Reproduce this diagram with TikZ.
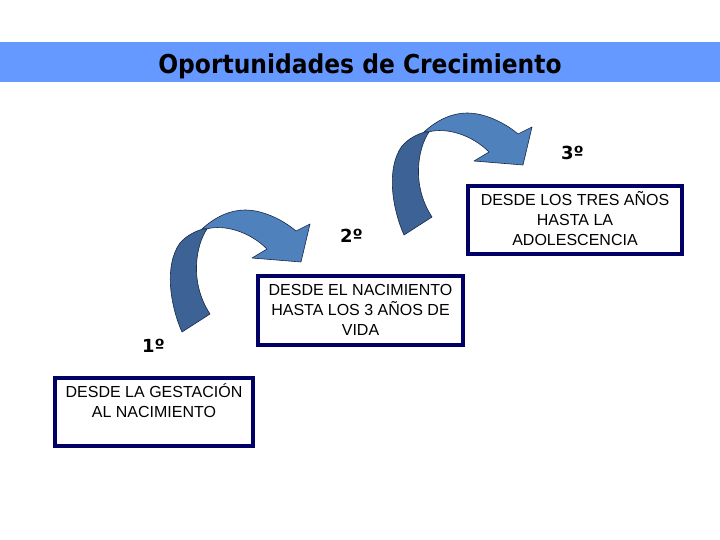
\documentclass[tikz,border=0pt]{standalone}
\usepackage{fontspec}
\setmainfont{Liberation Sans}
\newfontfamily\titlefont{DejaVu Sans Condensed}
\newfontfamily\labfont{DejaVu Sans}
\definecolor{barblue}{RGB}{102,153,255}
\definecolor{navyb}{RGB}{0,0,102}
\definecolor{arrlight}{RGB}{79,129,189}
\definecolor{arrdark}{RGB}{60,98,150}
\definecolor{arredge}{RGB}{25,40,70}
\tikzset{
  curvearrow/.pic={
    \path[lightpart] (20,-103) .. controls (33,-115) and (48,-122) .. (63,-122)
      .. controls (80,-122) and (100,-113) .. (114,-101) -- (128,-108) -- (119,-70)
      -- (70,-74) -- (85,-83) .. controls (68,-100) and (43,-108) .. (24,-103) -- cycle;
    \path[darkpart] (0,0) .. controls (-12,-27) and (-18,-67) .. (-2,-89)
      .. controls (5,-97) and (14,-101) .. (21,-103) -- (25,-103)
      .. controls (14,-87) and (7,-50) .. (28,-18) -- cycle;
  }
}
\begin{document}
\begin{tikzpicture}[x=1pt,y=-1pt,
  stepbox/.style={draw=navyb, line width=4pt, fill=white, rectangle, inner sep=0pt},
  boxtext/.style={anchor=north, inner sep=0pt, align=center, font=\fontsize{16}{20}\selectfont},
  ordlabel/.style={anchor=base, inner sep=0pt, font=\labfont\bfseries\fontsize{18}{20}\selectfont},
  lightpart/.style={fill=arrlight, draw=arredge, line width=0.6pt, line join=round},
  darkpart/.style={fill=arrdark, draw=arredge, line width=0.6pt, line join=round}]
\useasboundingbox (0,0) rectangle (720,540);
\fill[white] (0,0) rectangle (720,540);
\node[fill=barblue, minimum width=720pt, minimum height=40pt, inner sep=0pt, anchor=north west] (bar) at (0,42) {};
\node[anchor=base, font=\titlefont\bfseries\fontsize{26}{30}\selectfont, inner sep=0pt] (title) at (360,74) {Oportunidades de Crecimiento};

\pic at (182,332) {curvearrow};
\pic at (404,235) {curvearrow};

\node[stepbox, minimum width=198pt, minimum height=68pt] (b1) at (154,412) {};
\node[stepbox, minimum width=205pt, minimum height=69pt] (b2) at (360.5,310.5) {};
\node[stepbox, minimum width=214pt, minimum height=68pt] (b3) at (575,220) {};

\node[boxtext] (t1) at (154,381) {\rule{0pt}{16pt}DESDE LA GESTACIÓN\\AL NACIMIENTO};
\node[boxtext] (t2) at (360.5,279) {\rule{0pt}{16pt}DESDE EL NACIMIENTO\\HASTA LOS 3 AÑOS DE\\VIDA};
\node[boxtext] (t3) at (575,189) {\rule{0pt}{16pt}DESDE LOS TRES AÑOS\\HASTA LA\\ADOLESCENCIA};

\node[ordlabel] (n1) at (153.5,352) {1º};
\node[ordlabel] (n2) at (351.5,243) {2º};
\node[ordlabel] (n3) at (572.5,160) {3º};
\end{tikzpicture}
\end{document}
